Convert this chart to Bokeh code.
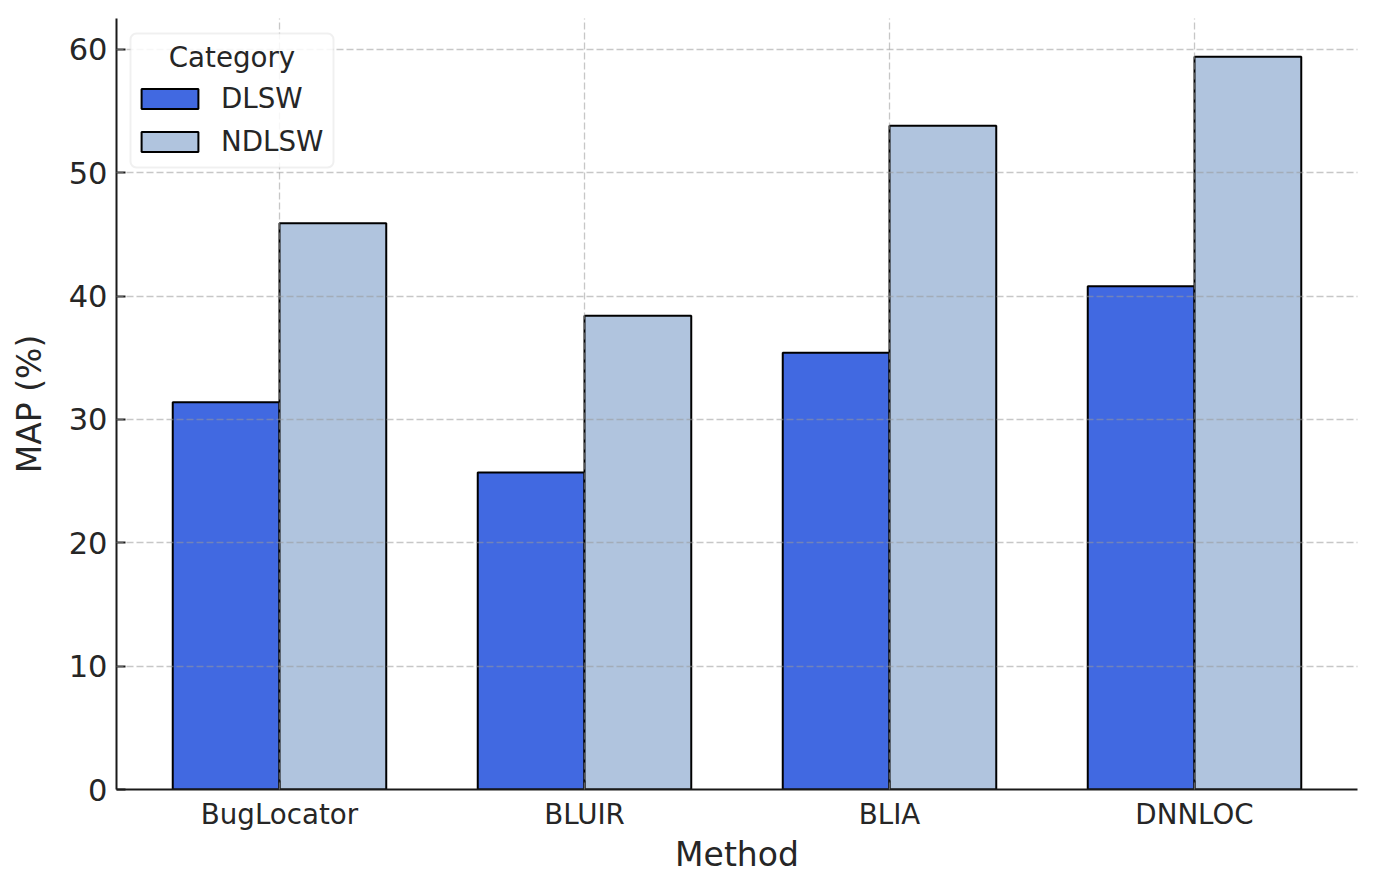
from bokeh.plotting import figure
from bokeh.models import (FactorRange, Range1d, Legend, LegendItem, BoxAnnotation,
                          Label, ColumnDataSource, FixedTicker)
from bokeh.transform import dodge
from bokeh.embed import file_html
from bokeh.resources import INLINE

methods = ["BugLocator", "BLUIR", "BLIA", "DNNLOC"]
dlsw = [31.4, 25.7, 35.4, 40.8]
ndlsw = [45.9, 38.4, 53.8, 59.4]
y_ticks = [0, 10, 20, 30, 40, 50, 60]
series_names = ["DLSW", "NDLSW"]
series_colors = ["#4169E1", "#B0C4DE"]
legend_title = "Category"
x_label = "Method"
y_label = "MAP (%)"

FONT = "DejaVu Sans"
TXT = "#262626"

src = ColumnDataSource(dict(method=methods, dlsw=dlsw, ndlsw=ndlsw))

p = figure(width=1368, height=881,
           x_range=FactorRange(*methods, range_padding=0.0172),
           y_range=Range1d(0, 62.5),
           output_backend="svg", toolbar_location=None,
           min_border_left=116, min_border_right=11,
           min_border_top=18, min_border_bottom=92)
p.outline_line_color = None
p.background_fill_color = "white"

r1 = p.vbar(x=dodge("method", -0.175, range=p.x_range), top="dlsw", width=0.35,
            source=src, fill_color=series_colors[0], line_color="black", line_width=2)
r2 = p.vbar(x=dodge("method", 0.175, range=p.x_range), top="ndlsw", width=0.35,
            source=src, fill_color=series_colors[1], line_color="black", line_width=2)

# grids above bars
for g in (p.xgrid, p.ygrid):
    g.level = "annotation"
    g.grid_line_color = "#999999"
    g.grid_line_alpha = 0.55
    g.grid_line_dash = "7 3"
    g.grid_line_width = 1.3

p.yaxis.ticker = FixedTicker(ticks=y_ticks)
for ax in (p.xaxis, p.yaxis):
    ax.axis_line_color = "#1a1a1a"
    ax.axis_line_width = 2
    ax.major_tick_line_color = "#1a1a1a"
    ax.major_tick_line_width = 2
    ax.major_tick_in = 9
    ax.major_tick_out = 0
    ax.minor_tick_line_color = None
    ax.major_label_text_font = FONT
    ax.major_label_text_color = TXT
    ax.axis_label_text_font = FONT
    ax.axis_label_text_color = TXT
    ax.axis_label_text_font_style = "normal"
    ax.axis_label_text_font_size = "33px"
    ax.major_label_standoff = 9

p.xaxis.major_label_standoff = 8
p.xaxis.major_label_text_font_size = "27.7px"
p.yaxis.major_label_text_font_size = "30.5px"
p.xaxis.axis_label = x_label
p.yaxis.axis_label = y_label
p.xaxis.axis_label_standoff = 1
p.yaxis.axis_label_standoff = 17

# legend frame and title
box = BoxAnnotation(left=14, right=217, top=756, bottom=622,
                    left_units="screen", right_units="screen",
                    top_units="screen", bottom_units="screen",
                    fill_color="white", fill_alpha=0.85,
                    line_color="#cccccc", line_width=2, border_radius=6,
                    level="overlay")
p.add_layout(box)
title = Label(x=115.5, y=732, x_units="screen", y_units="screen", text=legend_title,
              text_font=FONT, text_font_size="27.7px", text_color=TXT,
              text_align="center", text_baseline="alphabetic", level="overlay")
p.add_layout(title)

legend = Legend(items=[LegendItem(label=series_names[0], renderers=[r1]),
                       LegendItem(label=series_names[1], renderers=[r2])],
                location=(18, 631), orientation="vertical",
                padding=0, margin=0, spacing=10,
                glyph_width=71, glyph_height=25, label_height=20,
                label_standoff=16, label_text_font=FONT,
                label_text_font_size="27.7px", label_text_color=TXT,
                border_line_color=None, background_fill_alpha=0,
                level="overlay")
p.add_layout(legend)

open("out.html", "w").write(file_html(p, INLINE))
